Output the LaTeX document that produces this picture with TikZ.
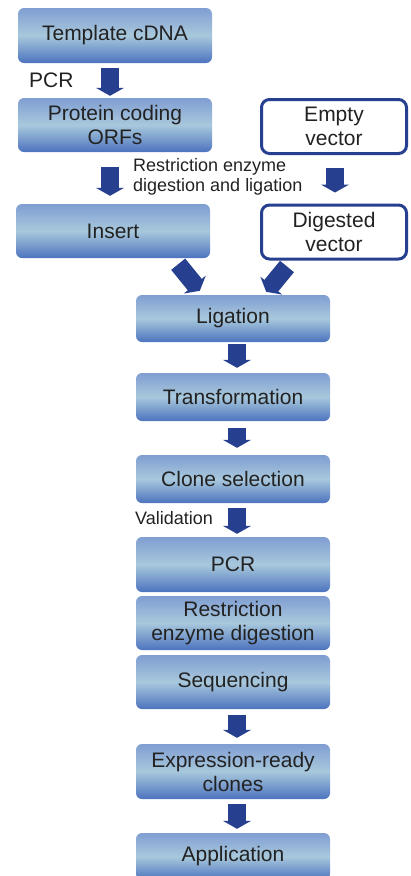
\documentclass[tikz,border=0pt]{standalone}
\usepackage{fontspec}
\setmainfont{Liberation Sans}
\usetikzlibrary{positioning}
\usetikzlibrary{arrows.meta}
\definecolor{boxtop}{RGB}{128,158,210}
\definecolor{boxmid}{RGB}{168,200,220}
\definecolor{boxbot}{RGB}{76,115,190}
\definecolor{arrowblue}{RGB}{38,63,143}
\definecolor{txtgray}{RGB}{34,34,34}
\tikzset{
    stepnode/.style = {rectangle, rounded corners=6pt, minimum width=194pt, align=center, top color=boxtop, bottom color=boxbot, middle color=boxmid, text=txtgray, font=\fontsize{21}{24}\selectfont},
    vecnode/.style = {rectangle, rounded corners=8pt, line width=3pt, draw=arrowblue, fill=white, minimum width=145pt, minimum height=54pt, align=center, text=txtgray, font=\fontsize{21}{24}\selectfont},
    labelnode/.style = {anchor=west, align=left, text=txtgray, inner sep=0pt, font=\fontsize{18}{20}\selectfont},
    edgea/.style = {line width=18pt, draw=arrowblue, -{Triangle[length=8pt,width=28pt]}},
}

\begin{document}
\begin{tikzpicture}[x=1pt,y=-1pt]
\useasboundingbox (0,0) rectangle (411,876);
\clip (0,0) rectangle (411,876);
%
\node[stepnode, minimum height=55pt] at (115,35.5) (tmpl) {Template cDNA};
\node[stepnode, minimum height=54pt] at (115,125) (orf) {Protein coding\\ORFs};
\node[vecnode] at (334,126.5) (empty) {Empty\\vector};
\node[stepnode, minimum height=54pt] at (113,231) (insert) {Insert};
\node[vecnode] at (334,232) (digest) {Digested\\vector};
\node[stepnode, minimum height=47pt] at (233,318.5) (lig) {Ligation};
\node[stepnode, minimum height=48pt] at (233,397) (trans) {Transformation};
\node[stepnode, minimum height=48pt] at (233,479) (clone) {Clone selection};
\node[stepnode, minimum height=55pt] at (233,564.5) (pcr) {PCR};
\node[stepnode, minimum height=54pt] at (233,623) (restr) {Restriction\\enzyme digestion};
\node[stepnode, minimum height=54pt] at (233,682) (seq) {Sequencing};
\node[stepnode, minimum height=55pt] at (233,771.5) (expr) {Expression-ready\\clones};
\node[stepnode, minimum height=47pt] at (233,856.5) (app) {Application};
%
\node[labelnode, font=\fontsize{21}{24}\selectfont] at (29,80) (pcrlab) {PCR};
\node[labelnode] at (133,177) (restrlab) {Restriction enzyme\\digestion and ligation};
\node[labelnode] at (135,518) (validlab) {Validation};
%
\draw[edgea, shorten <=5pt, shorten >=2pt] ([xshift=-5pt]tmpl.south) -- ([xshift=-5pt]orf.north);
\draw[edgea, shorten <=15pt, shorten >=8pt] ([xshift=-5pt]orf.south) -- ([xshift=-3pt]insert.north);
\draw[edgea, shorten <=13pt, shorten >=11pt] ([xshift=1pt]empty.south) -- ([xshift=1pt]digest.north);
\draw[edgea] ([shift={(-32pt,-6pt)}]insert.south east) -- ([shift={(64pt,4pt)}]lig.north west);
\draw[edgea] ([shift={(27pt,-6pt)}]digest.south west) -- ([shift={(-64pt,3pt)}]lig.north east);
\draw[edgea, shorten <=2pt, shorten >=5pt] ([xshift=4pt]lig.south) -- ([xshift=4pt]trans.north);
\draw[edgea, shorten <=7pt, shorten >=7pt] ([xshift=4pt]trans.south) -- ([xshift=4pt]clone.north);
\draw[edgea, shorten <=5pt, shorten >=3pt] ([xshift=4pt]clone.south) -- ([xshift=4pt]pcr.north);
\draw[edgea, shorten <=6pt, shorten >=6pt] ([xshift=4pt]seq.south) -- ([xshift=4pt]expr.north);
\draw[edgea, shorten <=5pt, shorten >=4pt] ([xshift=4pt]expr.south) -- ([xshift=4pt]app.north);

\end{tikzpicture}
\end{document}
